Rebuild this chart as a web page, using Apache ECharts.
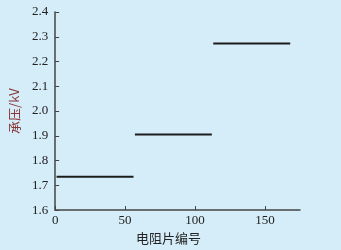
<!DOCTYPE html>
<html><head><meta charset="utf-8">
<script src="https://cdn.jsdelivr.net/npm/echarts@6/dist/echarts.min.js"></script>
<style>html,body{margin:0;padding:0;background:#d5edf8;}#c{width:341px;height:250px;}</style>
</head><body><div id="c"></div>
<script>
// groups of resistor pieces: first index, last index, withstand voltage (kV)
const groupStart = [1, 57, 113];
const groupEnd = [56, 112, 168];
const groupValue = [1.735, 1.905, 2.273];
const xTicks = [0, 50, 100, 150];
const yTicks = [1.6, 1.7, 1.8, 1.9, 2.0, 2.1, 2.2, 2.3, 2.4];

const series = groupValue.map((v, g) => {
  const data = [];
  for (let i = groupStart[g]; i <= groupEnd[g]; i++) data.push([i, v]);
  return {
    type: 'line', data: data, showSymbol: false, silent: true,
    lineStyle: { color: '#1c1c1c', width: 2 }
  };
});

const chart = echarts.init(document.getElementById('c'), null, { renderer: 'canvas' });
const serif = '"Liberation Serif", "DejaVu Serif", serif';
chart.setOption({
  backgroundColor: '#d5edf8',
  animation: false,
  grid: { left: 53, right: 41, top: 12, bottom: 39 },
  xAxis: {
    type: 'value', min: 0, max: 175, interval: 50,
    name: '电阻片编号', nameLocation: 'middle', nameGap: 15,
    nameTextStyle: { fontFamily: '"Noto Sans CJK SC"', fontSize: 13, color: '#222', padding: [0, 18, 0, 0] },
    axisLine: { lineStyle: { color: '#444', width: 1.5 } },
    axisTick: { inside: true, length: 4, lineStyle: { color: '#444' } },
    axisLabel: { fontFamily: serif, fontSize: 13, color: '#222', margin: 4, showMaxLabel: false },
    splitLine: { show: false }
  },
  yAxis: {
    type: 'value', min: 1.6, max: 2.4, interval: 0.1,
    name: '承压/kV', nameLocation: 'middle', nameGap: 27,
    nameTextStyle: { fontFamily: '"Noto Sans CJK SC"', fontSize: 13, color: '#8a3535' },
    axisLine: { show: true, lineStyle: { color: '#444', width: 1.5 } },
    axisTick: { show: true, inside: true, length: 4, lineStyle: { color: '#444' } },
    axisLabel: { fontFamily: serif, fontSize: 13, color: '#222', margin: 7,
      formatter: v => v.toFixed(1) },
    splitLine: { show: false }
  },
  series: series
});
</script></body></html>
